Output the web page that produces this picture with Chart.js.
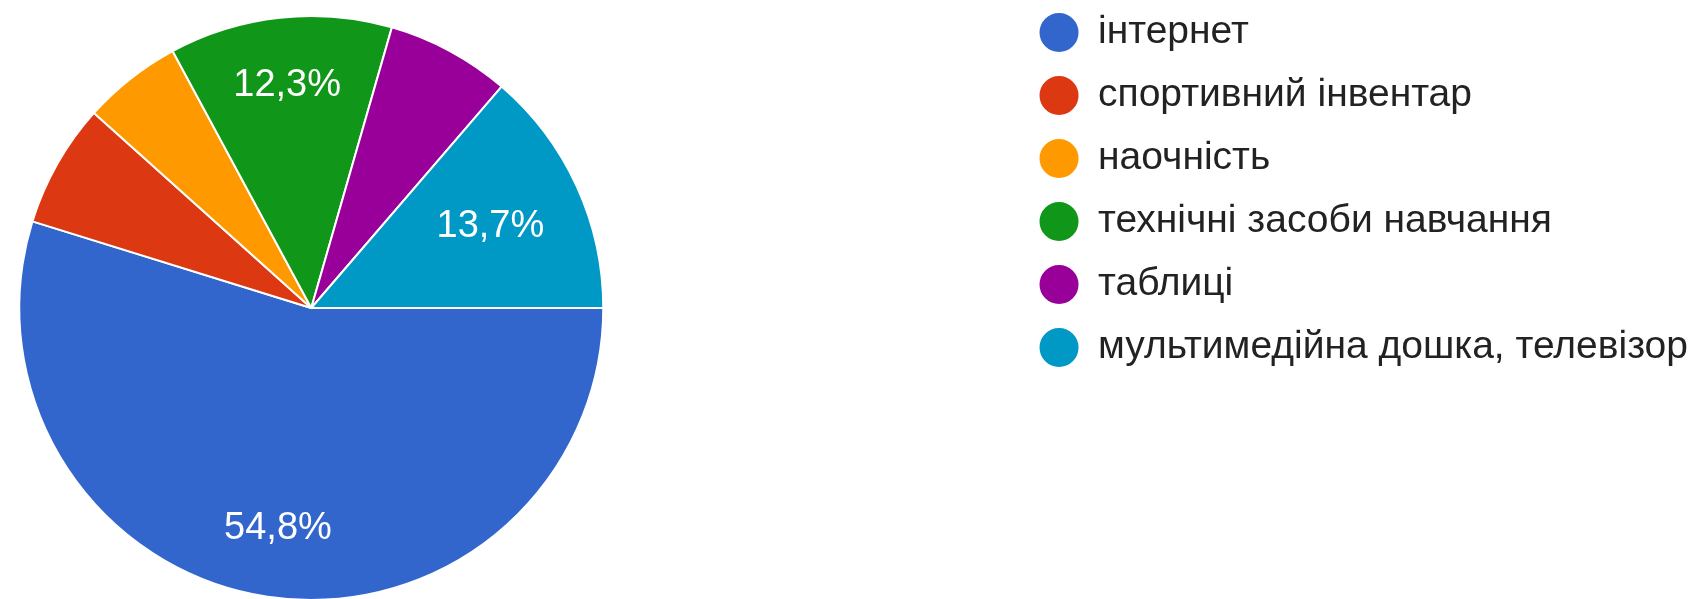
<!DOCTYPE html>
<html lang="uk">
<head>
<meta charset="utf-8">
<title>Засоби навчання</title>
<script src="https://cdn.jsdelivr.net/npm/chart.js@4.4.1/dist/chart.umd.min.js"></script>
<style>
  html, body { margin: 0; padding: 0; background: #fff; overflow: hidden; }
  /* canvas is a bit larger than the window so the legend sits high and the pie stays left */
  #wrap { position: absolute; left: -393px; top: -11px; width: 2091px; height: 638px; }
</style>
</head>
<body>
<div id="wrap"><canvas id="grafPie"></canvas></div>
<script>
// Відповіді (кількість)
var categories = ['інтернет', 'спортивний інвентар', 'наочність', 'технічні засоби навчання', 'таблиці', 'мультимедійна дошка, телевізор'];
var answers = [40, 5, 4, 9, 5, 10];
var colors = ['#3366cc', '#dc3912', '#ff9900', '#109618', '#990099', '#0099c6'];

var fontFamily = '"Liberation Sans", Arial, sans-serif';
// how far from the centre the % text goes (share of radius)
var labelRadius = [0.76, 0.7, 0.7, 0.77, 0.7, 0.675];

// % labels inside the big slices
var percentLabels = {
    id: 'percentLabels',
    afterDatasetsDraw: function (chart) {
        var ctx = chart.ctx;
        var meta = chart.getDatasetMeta(0);
        var data = chart.data.datasets[0].data;
        var total = data.reduce(function (a, b) { return a + b; }, 0);
        ctx.save();
        ctx.font = '38px ' + fontFamily;
        ctx.fillStyle = '#ffffff';
        ctx.textAlign = 'center';
        ctx.textBaseline = 'middle';
        meta.data.forEach(function (arc, i) {
            var share = data[i] / total;
            if (share < 0.1) return;
            var p = arc.getProps(['x', 'y', 'startAngle', 'endAngle', 'outerRadius'], true);
            var mid = (p.startAngle + p.endAngle) / 2;
            var r = p.outerRadius * labelRadius[i];
            var txt = (share * 100).toFixed(1).replace('.', ',') + '%';
            ctx.fillText(txt, p.x + Math.cos(mid) * r, p.y + Math.sin(mid) * r + 1);
        });
        ctx.restore();
    }
};

var ctxP = document.getElementById('grafPie').getContext('2d');
var chart = new Chart(ctxP, {
    type: 'pie',
    data: {
        labels: categories,
        datasets: [{
            data: answers,
            backgroundColor: colors,
            borderColor: '#ffffff',
            borderWidth: 2
        }]
    },
    options: {
        responsive: true,
        maintainAspectRatio: false,
        animation: false,
        rotation: 90,
        radius: 292,
        plugins: {
            legend: {
                position: 'right',
                align: 'start',
                labels: {
                    usePointStyle: true,
                    pointStyle: 'circle',
                    boxWidth: 39,
                    boxHeight: 29,
                    padding: 24,
                    color: '#222222',
                    font: { family: fontFamily, size: 39 }
                }
            },
            tooltip: { enabled: false }
        }
    },
    plugins: [percentLabels]
});
</script>
</body>
</html>
